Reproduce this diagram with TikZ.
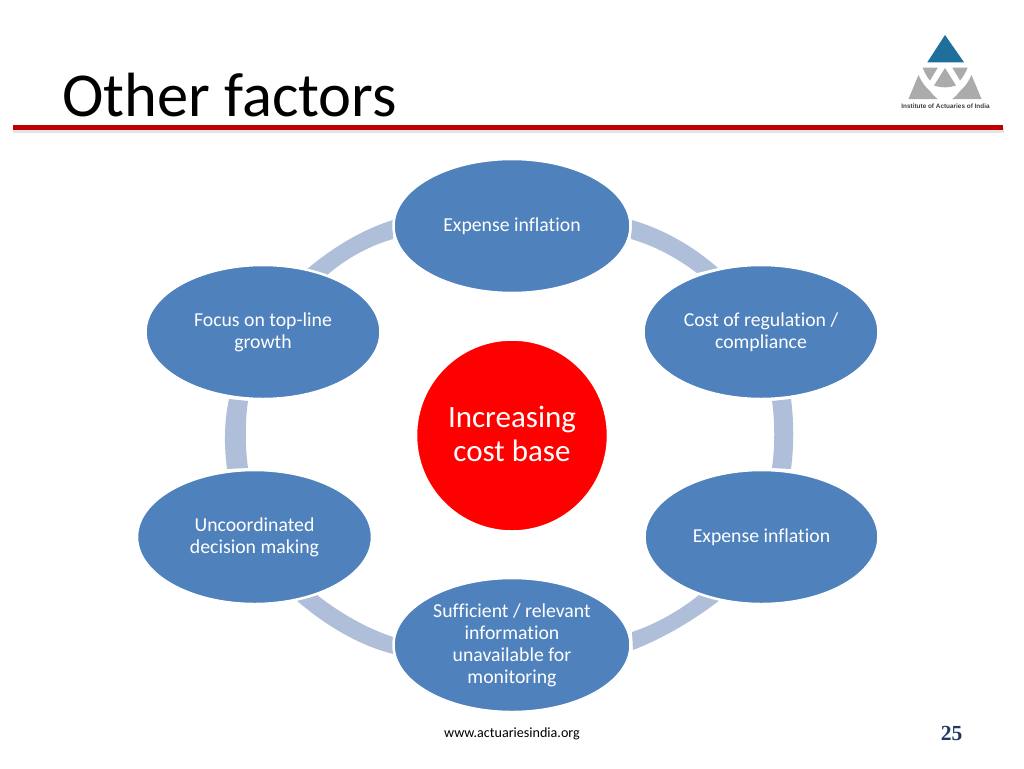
\documentclass[tikz,border=0pt]{standalone}
\usepackage{fontspec}
\setmainfont[RawFeature={-liga;-clig}]{Carlito}
\newfontfamily\pagefont{Liberation Serif}
\newfontfamily\logofont{Liberation Sans}
\usetikzlibrary{shapes.geometric}
\definecolor{nodeblue}{HTML}{4F81BD}
\definecolor{ringblue}{HTML}{B0BFD9}
\definecolor{rulered}{HTML}{C00000}
\definecolor{logoblue}{HTML}{1F6F9C}
\definecolor{logogrey}{HTML}{ABABAB}
\definecolor{pagenavy}{HTML}{1F3864}
\newcommand{\nudged}[2][3pt]{\begin{tabular}{@{}c@{}}\noalign{\vskip #1}#2\end{tabular}}
\tikzset{
  factor/.style={ellipse,fill=nodeblue,draw=white,line width=2.5pt,minimum width=#1,minimum height=134pt,inner sep=0pt,text=white,align=center,font=\fontsize{19.75}{22}\selectfont},
  ringseg/.style={fill=ringblue,draw=none},
  logopiece/.style={fill=logogrey,draw=none}
}
\begin{document}
\begin{tikzpicture}[x=1pt,y=-1pt]
\useasboundingbox (0,0) rectangle (1024,768);
\fill[white] (0,0) rectangle (1024,768);
% title
\node[anchor=base west,inner sep=0pt,font=\fontsize{62.5}{64}\selectfont,text=black] (title) at (62,116) {Other factors};
\fill[black!10] (13,128) rectangle (1004,132.5);
\draw[rulered,line width=4.5pt] (13,127.5) -- (1003,127.5);
% logo
\fill[logoblue] (945,35) -- (927.3,62.3) -- (964,62.3) -- cycle;
\fill[logopiece] (922.7,67.7) -- (937.7,67.7) -- (930,80.5) .. controls (926.5,76.5) and (924.5,72.5) .. cycle;
\fill[logopiece] (967.7,67.7) -- (952.3,67.7) -- (960,80.5) .. controls (963.5,76.5) and (965.5,72.5) .. cycle;
\fill[logopiece] (945,68) -- (956,85.5) .. controls (949,88) and (941,88) .. (934,85.5) -- cycle;
\fill[logopiece] (918.5,75) .. controls (921,81) and (925,87) .. (930,91) .. controls (932,94) and (935,97) .. (937.7,99) -- (908.5,99) -- cycle;
\fill[logopiece] (971.5,75) .. controls (969,81) and (965,87) .. (960,91) .. controls (958,94) and (955,97) .. (952.3,99) -- (981.5,99) -- cycle;
\node[anchor=center,inner sep=0pt,font=\logofont\bfseries\fontsize{6.4}{7}\selectfont,text=black!75] (logotext) at (945.5,106) {Institute of Actuaries of India};
% ring segments
\fill[ringseg] (632,220) .. controls (663,229) and (693,246) .. (718,268) -- (697,273) .. controls (677,258) and (655,246) .. (631,239) -- cycle;
\fill[ringseg] (791,399) .. controls (794,422) and (794,446) .. (791,469) -- (772,468) .. controls (775,446) and (775,422) .. (772,401) -- cycle;
\fill[ringseg] (720,600) .. controls (694,620) and (664,638) .. (633,650) -- (632,632) .. controls (656,624) and (679,611) .. (699,595) -- cycle;
\fill[ringseg] (393,654) .. controls (358,645) and (325,625) .. (296,600) -- (317,595) .. controls (340,613) and (366,628) .. (393,637) -- cycle;
\fill[ringseg] (227,469) .. controls (224,446) and (224,422) .. (229,399) -- (248,401) .. controls (245,422) and (245,446) .. (248,468) -- cycle;
\fill[ringseg] (306,270) .. controls (332,248) and (361,230) .. (393,220) -- (393,239) .. controls (369,246) and (347,258) .. (327,275) -- cycle;
% nodes
\node[factor=237pt] (n1) at (512,226) {\nudged{Expense inflation}};
\node[factor=235pt] (n2) at (761,332) {\nudged{Cost of regulation /\\compliance}};
\node[factor=234pt] (n3) at (761.5,537) {\nudged{Expense inflation}};
\node[factor=237pt] (n4) at (512,645) {\nudged{Sufficient / relevant\\information\\unavailable for\\monitoring}};
\node[factor=235pt] (n5) at (254.5,537) {\nudged{Uncoordinated\\decision making}};
\node[factor=235pt] (n6) at (263,332) {\nudged{Focus on top-line\\growth}};
\node[circle,fill=red,draw=white,line width=2.5pt,minimum size=192pt,inner sep=0pt,text=white,align=center,font=\fontsize{31}{34.7}\selectfont] (c) at (512,435.5) {\nudged[4pt]{Increasing\\cost base}};
% footer
\node[inner sep=0pt,font=\fontsize{14.1}{16}\selectfont,text=black] (foot) at (512,734) {www.actuariesindia.org};
\node[inner sep=0pt,font=\pagefont\bfseries\fontsize{21.5}{22}\selectfont,text=pagenavy] (pg) at (951.5,733) {25};
\end{tikzpicture}
\end{document}
